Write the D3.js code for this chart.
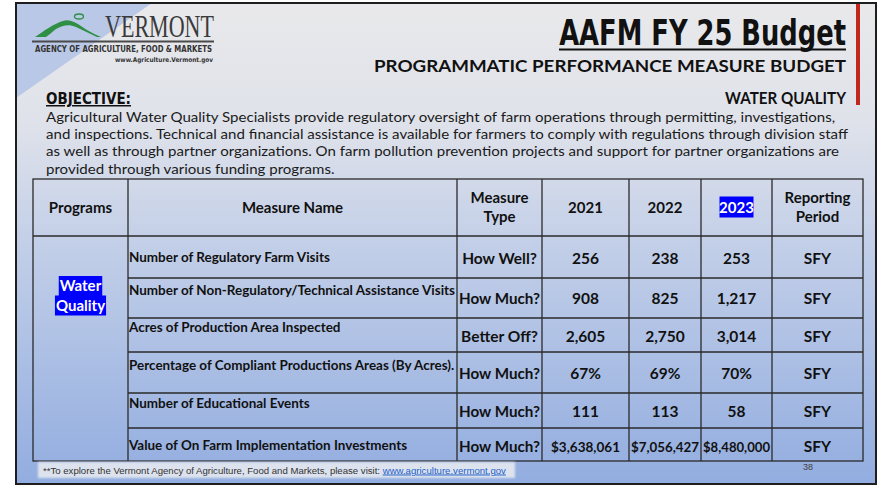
<!DOCTYPE html>
<html>
<head>
<meta charset="utf-8">
<script src="https://cdn.jsdelivr.net/npm/d3@7"></script>
<style>
  body { margin: 0; background: #fff; }
  svg { display: block; }
</style>
</head>
<body>
<svg width="879" height="487"></svg>
<script>
// ---- data ----
var title = "AAFM FY 25 Budget",
    subtitle = "PROGRAMMATIC PERFORMANCE MEASURE BUDGET",
    area = "WATER QUALITY";

var objective = [
  "Agricultural Water Quality Specialists provide regulatory oversight of farm operations through permitting, investigations,",
  "and inspections. Technical and financial assistance is available for farmers to comply with regulations through division staff",
  "as well as through partner organizations. On farm pollution prevention projects and support for partner organizations are",
  "provided through various funding programs."
];

var columns = ["program", "name", "type", "y2021", "y2022", "y2023", "period"];
var headers = [["Programs"], ["Measure Name"], ["Measure", "Type"], ["2021"], ["2022"], ["2023"], ["Reporting", "Period"]];
var programs = ["Water", "Quality"];

var measureNames = [
  "Number of Regulatory Farm Visits",
  "Number of Non-Regulatory/Technical Assistance Visits",
  "Acres of Production Area Inspected",
  "Percentage of Compliant Productions Areas (By Acres).",
  "Number of Educational Events",
  "Value of On Farm Implementation Investments"
];
var measureTypes = ["How Well?", "How Much?", "Better Off?", "How Much?", "How Much?", "How Much?"];
var values2021 = ["256", "908", "2,605", "67%", "111", "$3,638,061"];
var values2022 = ["238", "825", "2,750", "69%", "113", "$7,056,427"];
var values2023 = ["253", "1,217", "3,014", "70%", "58", "$8,480,000"];
var periods = ["SFY", "SFY", "SFY", "SFY", "SFY", "SFY"];

var footNote = "**To explore the Vermont Agency of Agriculture, Food and Markets, please visit: ",
    footLink = "www.agriculture.vermont.gov",
    pageNo = "38";

// ---- layout ----
var colEdges = [33, 128, 457, 542, 629, 701, 772, 863];
var rowEdges = [179, 236, 278, 318, 352, 393, 428, 461];
var nameShift = [0, -8, -8, -8, -8, 0];
var valShift = [1, 0, 1, 1, 1, 2];

var svg = d3.select("svg"),
    defs = svg.append("defs");

var x = d3.scaleOrdinal().domain(columns).range(colEdges.slice(0, -1)),
    xr = d3.scaleOrdinal().domain(columns).range(colEdges.slice(1)),
    xc = function(k) { return (x(k) + xr(k)) / 2; },
    rowIdx = d3.range(measureNames.length),
    y = d3.scaleOrdinal().domain(rowIdx).range(rowEdges.slice(1, -1)),
    yb = d3.scaleOrdinal().domain(rowIdx).range(rowEdges.slice(2)),
    yc = function(i) { return (y(i) + yb(i)) / 2; };

function squeeze(sel, k) {
  sel.each(function() {
    var w = this.getComputedTextLength();
    d3.select(this).attr("textLength", w * k).attr("lengthAdjust", "spacingAndGlyphs");
  });
}
function fitWidth(sel, w) {
  sel.attr("textLength", w).attr("lengthAdjust", "spacingAndGlyphs");
}
// horizontal scale via transform, so the box of the text stays true
function scaleTo(g, textSel, w) {
  var n = textSel.node().getComputedTextLength();
  textSel.attr("transform", "scale(" + (w / n) + ",1)");
}

// background
var grad = defs.append("linearGradient").attr("id", "bg").attr("x1", 0).attr("y1", 0).attr("x2", 0).attr("y2", 1);
grad.append("stop").attr("offset", "0%").attr("stop-color", "#e9e9eb");
grad.append("stop").attr("offset", "25%").attr("stop-color", "#dfe2ea");
grad.append("stop").attr("offset", "50%").attr("stop-color", "#c3cfe8");
grad.append("stop").attr("offset", "100%").attr("stop-color", "#92ade0");

svg.append("rect").attr("x", 16).attr("y", 3).attr("width", 860).attr("height", 481).attr("fill", "url(#bg)");
svg.append("path").attr("d", "M16,3L152,3L16,98Z").attr("fill", "#b8c8e6");
svg.append("rect").attr("x", 16).attr("y", 3).attr("width", 860).attr("height", 481)
  .attr("fill", "none").attr("stroke", "#1e1e1e").attr("stroke-width", 2);

// red accent bar
svg.append("rect").attr("x", 856).attr("y", 4).attr("width", 4).attr("height", 101).attr("fill", "#c0281c");

// logo
var logo = svg.append("g");
logo.append("path")
  .attr("d", "M35,37 C44,31 53,24 63,21 C69,19 75,22 81,26 C88,31 94,34 101,37 L97,37 C90,34 83,30 76,27 C69,24 63,25 56,29 C52,32 49,35 46,37 Z")
  .attr("fill", "#2f8f45");
logo.append("ellipse").attr("cx", 79).attr("cy", 16.5).attr("rx", 4.5).attr("ry", 2.5)
  .attr("fill", "none").attr("stroke", "#2f8f45").attr("stroke-width", 1.3);
logo.append("text").attr("x", 105).attr("y", 37)
  .style("font", "31px 'Liberation Serif', serif").attr("fill", "#3a3a3a")
  .text("VERMONT").call(fitWidth, 109);
logo.append("line").attr("x1", 32).attr("x2", 214).attr("y1", 41.5).attr("y2", 41.5)
  .attr("stroke", "#4a4a4a").attr("stroke-width", 2);
logo.append("text").attr("x", 35).attr("y", 52)
  .style("font", "bold 8.5px 'DejaVu Sans Condensed', sans-serif").attr("fill", "#333")
  .text("AGENCY OF AGRICULTURE, FOOD & MARKETS").call(fitWidth, 177);
logo.append("text").attr("x", 115).attr("y", 62)
  .style("font", "bold 6.5px 'DejaVu Sans Condensed', sans-serif").attr("fill", "#333")
  .text("www.Agriculture.Vermont.gov").call(fitWidth, 98);

// titles
var tg = svg.append("g").attr("transform", "translate(846,45)");
var t = tg.append("text").attr("text-anchor", "end")
  .style("font", "bold 35px 'DejaVu Sans Condensed', sans-serif").attr("fill", "#111")
  .text(title);
scaleTo(tg, t, 287);
svg.append("line").attr("x1", 559).attr("x2", 846).attr("y1", 49.5).attr("y2", 49.5)
  .attr("stroke", "#111").attr("stroke-width", 2);
svg.append("text").attr("x", 846).attr("y", 72).attr("text-anchor", "end")
  .style("font", "bold 17px Lato, sans-serif").attr("fill", "#111")
  .text(subtitle).call(fitWidth, 472);
svg.append("text").attr("x", 846).attr("y", 104).attr("text-anchor", "end")
  .style("font", "bold 17.5px Lato, sans-serif").attr("fill", "#111")
  .text(area).call(fitWidth, 121);

// objective
svg.append("text").attr("x", 46).attr("y", 104)
  .style("font", "bold 15px 'DejaVu Sans Condensed', sans-serif").attr("fill", "#111")
  .attr("text-decoration", "underline")
  .text("OBJECTIVE:").call(fitWidth, 85);

var para = svg.append("g").selectAll("text").data(objective).join("text")
  .attr("x", 46).attr("y", function(d, i) { return 122 + i * 17.2; })
  .style("font", "14px Lato, sans-serif").attr("fill", "#1a1a1a")
  .text(function(d) { return d; });
var longest = d3.max(para.nodes(), function(n) { return n.getComputedTextLength(); });
para.call(squeeze, 802 / longest);

// table lines
var grid = svg.append("g").attr("stroke", "#2a2a2a").attr("stroke-width", 1.3).attr("fill", "none");
grid.append("rect").attr("x", colEdges[0]).attr("y", rowEdges[0])
  .attr("width", colEdges[7] - colEdges[0]).attr("height", rowEdges[7] - rowEdges[0]);
grid.selectAll(".v").data(colEdges.slice(1, -1)).join("line")
  .attr("x1", function(d) { return d; }).attr("x2", function(d) { return d; })
  .attr("y1", rowEdges[0]).attr("y2", rowEdges[7]);
grid.append("line").attr("x1", colEdges[0]).attr("x2", colEdges[7]).attr("y1", rowEdges[1]).attr("y2", rowEdges[1]);
grid.selectAll(".h").data(rowIdx.slice(1)).join("line")
  .attr("x1", x("name")).attr("x2", colEdges[7])
  .attr("y1", function(i) { return y(i); }).attr("y2", function(i) { return y(i); });

// header
var hdr = svg.append("g").style("font", "bold 15px Lato, sans-serif").attr("fill", "#111").attr("text-anchor", "middle");
var hy = (rowEdges[0] + rowEdges[1]) / 2;
columns.forEach(function(k, ci) {
  var lines = headers[ci];
  if (k === "y2023") {
    hdr.append("rect").attr("x", xc(k) - 17).attr("y", hy - 11).attr("width", 34).attr("height", 21).attr("fill", "#0000ff");
  }
  lines.forEach(function(s, li) {
    hdr.append("text").attr("x", xc(k))
      .attr("y", hy + 5 + (li - (lines.length - 1) / 2) * 19.5)
      .attr("fill", k === "y2023" ? "#fff" : "#111")
      .text(s);
  });
});

// program cell
var pg = svg.append("g").style("font", "bold 15px Lato, sans-serif").attr("text-anchor", "middle");
programs.forEach(function(s, i) {
  var ty = 291 + i * 19.5;
  var tx = pg.append("text").attr("x", xc("program")).attr("y", ty).attr("fill", "#fff").text(s);
  var w = tx.node().getComputedTextLength();
  pg.insert("rect", "text").attr("x", xc("program") - w / 2 - 1).attr("y", ty - 15).attr("width", w + 2).attr("height", 20).attr("fill", "#0000ff");
});

// rows
var body = svg.append("g").attr("fill", "#111");
var names = body.selectAll(".nm").data(measureNames).join("text")
  .attr("x", x("name") + 1).attr("y", function(d, i) { return yc(i) + nameShift[i] + 5; })
  .style("font", "bold 13.5px Lato, sans-serif")
  .text(function(d) { return d; });
var nameMax = d3.max(names.nodes(), function(n) { return n.getComputedTextLength(); });
names.call(squeeze, Math.min(1, 326 / nameMax));

var cells = [
  ["type", measureTypes],
  ["y2021", values2021],
  ["y2022", values2022],
  ["y2023", values2023],
  ["period", periods]
];
cells.forEach(function(c) {
  body.append("g").selectAll("text").data(c[1]).join("text")
    .attr("text-anchor", "middle")
    .attr("x", xc(c[0]))
    .attr("y", function(d, i) { return yc(i) + valShift[i] + 5.5; })
    .style("font", function(d) { return "bold " + (d.charAt(0) === "$" ? 13.5 : 15.5) + "px Lato, sans-serif"; })
    .text(function(d) { return d; })
    .each(function() {
      var w = this.getComputedTextLength(), max = xr(c[0]) - x(c[0]) - 4;
      if (w > max) d3.select(this).attr("textLength", max).attr("lengthAdjust", "spacingAndGlyphs");
    });
});

// footer
var blur = defs.append("filter").attr("id", "soft").attr("x", "-5%").attr("y", "-30%").attr("width", "110%").attr("height", "160%");
blur.append("feGaussianBlur").attr("stdDeviation", 1.2);
svg.append("rect").attr("x", 38).attr("y", 462).attr("width", 477).attr("height", 16)
  .attr("fill", "#dde3ee").attr("filter", "url(#soft)");
var ft = svg.append("text").attr("x", 43).attr("y", 473.5)
  .style("font", "9.6px 'Liberation Sans', Arial, sans-serif").attr("fill", "#333");
ft.append("tspan").text(footNote);
ft.append("tspan").attr("fill", "#1f5fc8").attr("text-decoration", "underline").text(footLink);
svg.append("text").attr("x", 808).attr("y", 470).attr("text-anchor", "middle")
  .style("font", "9px 'Liberation Sans', Arial, sans-serif").attr("fill", "#404040")
  .text(pageNo);
</script>
</body>
</html>
